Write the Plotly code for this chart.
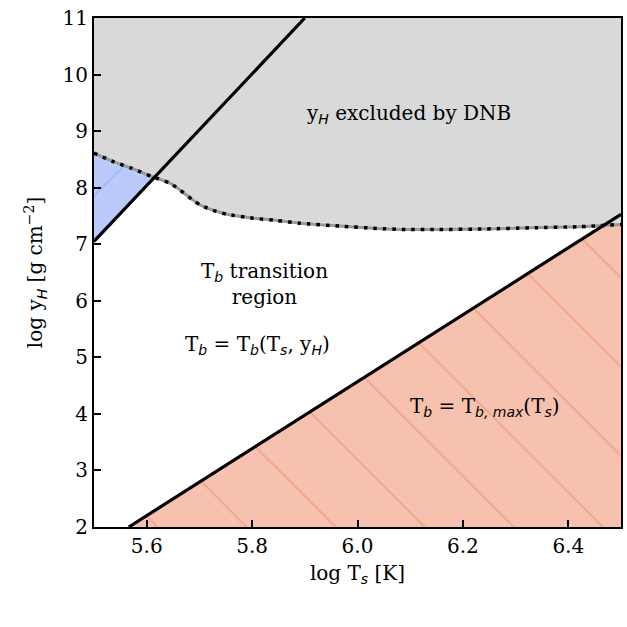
import numpy as np
import plotly.graph_objects as go

# ---- data ----
dnb_x = [5.500, 5.537, 5.572, 5.609, 5.644, 5.663, 5.688, 5.704, 5.726, 5.752,
         5.802, 5.847, 5.891, 5.967, 6.036, 6.093, 6.150, 6.245, 6.327, 6.422, 6.500]
dnb_y = [8.61, 8.46, 8.34, 8.20, 8.08, 7.96, 7.78, 7.68, 7.60, 7.53,
         7.46, 7.42, 7.37, 7.32, 7.28, 7.26, 7.26, 7.27, 7.29, 7.31, 7.35]

upper_x = [5.50, 5.90]
upper_y = [7.05, 11.0]
lower_x = [5.566, 6.50]
lower_y = [2.00, 7.53]

x_range = [5.5, 6.5]
y_range = [2, 11]
x_ticks = [5.6, 5.8, 6.0, 6.2, 6.4]
y_ticks = [2, 3, 4, 5, 6, 7, 8, 9, 10, 11]

FONT = "DejaVu Serif"
SUBF = "font-family:'DejaVu Sans';font-style:italic"


def sub(s):
    return f"<sub><span style=\"{SUBF}\">{s}</span></sub>"


def line_at(xs, lx, ly):
    return ly[0] + (ly[1] - ly[0]) / (lx[1] - lx[0]) * (np.asarray(xs) - lx[0])


grid = np.linspace(x_range[0], x_range[1], 2001)
dnb_g = np.interp(grid, dnb_x, dnb_y)

fig = go.Figure()

# gray excluded region: between dnb curve and top
fig.add_trace(go.Scatter(x=grid, y=np.full_like(grid, y_range[1]), mode="lines",
                         line=dict(width=0), hoverinfo="skip", showlegend=False))
fig.add_trace(go.Scatter(x=grid, y=dnb_g, mode="lines", fill="tonexty",
                         fillcolor="#d9d9d9", line=dict(width=0),
                         hoverinfo="skip", showlegend=False))

# blue region: between upper line and dnb curve where line lies below curve
up_g = line_at(grid, upper_x, upper_y)
mb = up_g <= dnb_g
bx = grid[mb]
fig.add_trace(go.Scatter(x=np.concatenate([bx, bx[::-1]]),
                         y=np.concatenate([dnb_g[mb], up_g[mb][::-1]]),
                         mode="lines", fill="toself", line=dict(width=0),
                         fillcolor="#b9cafb",
                         fillpattern=dict(shape="/", size=63, solidity=0.03,
                                          fgcolor="#a2b9f7", bgcolor="#b9cafb",
                                          fillmode="replace"),
                         hoverinfo="skip", showlegend=False))

# red region: below min(lower line, dnb curve)
lo_g = line_at(grid, lower_x, lower_y)
mr = grid >= lower_x[0]
rx = grid[mr]
rtop = np.minimum(lo_g[mr], dnb_g[mr])
fig.add_trace(go.Scatter(x=np.concatenate([rx, [rx[-1]]]),
                         y=np.concatenate([rtop, [y_range[0]]]),
                         mode="lines", fill="toself", line=dict(width=0),
                         fillcolor="#f7c1af",
                         fillpattern=dict(shape="\\", size=63, solidity=0.03,
                                          fgcolor="#f3a58c", bgcolor="#f7c1af",
                                          fillmode="replace"),
                         hoverinfo="skip", showlegend=False))

# dnb boundary: gray solid under black dots
fig.add_trace(go.Scatter(x=dnb_x, y=dnb_y, mode="lines",
                         line=dict(color="#9a9a9a", width=3, shape="spline", smoothing=0.6),
                         hoverinfo="skip", showlegend=False))
fig.add_trace(go.Scatter(x=dnb_x, y=dnb_y, mode="lines",
                         line=dict(color="black", width=3.5, dash="3.5px,6px",
                                   shape="spline", smoothing=0.6),
                         hoverinfo="skip", showlegend=False))

# boundary lines
fig.add_trace(go.Scatter(x=upper_x, y=upper_y, mode="lines",
                         line=dict(color="black", width=3.2),
                         hoverinfo="skip", showlegend=False))
fig.add_trace(go.Scatter(x=lower_x, y=lower_y, mode="lines",
                         line=dict(color="black", width=3.2),
                         hoverinfo="skip", showlegend=False))

tf = dict(family=FONT, size=20, color="black")
annos = [
    (6.096, 9.30, f"y{sub('H')} excluded by DNB"),
    (5.823, 6.30, f"T{sub('b')} transition<br>region"),
    (5.811, 5.22, f"T{sub('b')} = T{sub('b')}(T{sub('s')}, y{sub('H')})"),
    (6.242, 4.12, f"T{sub('b')} = T{sub('b, max')}(T{sub('s')})"),
]
for ax_, ay_, txt in annos:
    fig.add_annotation(x=ax_, y=ay_, text=txt, showarrow=False, font=tf,
                       xanchor="center", yanchor="middle", align="center")

axis_common = dict(showline=True, linecolor="black", linewidth=2.2, mirror=True,
                   ticks="inside", ticklen=7, tickwidth=1.5, tickcolor="black",
                   showgrid=False, zeroline=False, tickfont=tf, automargin=False)
fig.update_xaxes(range=x_range, tickvals=x_ticks, ticktext=[f"{v:.1f}" for v in x_ticks],
                 title=dict(text=f"log T{sub('s')} [K]", font=tf, standoff=9),
                 **axis_common)
fig.update_yaxes(range=y_range, tickvals=y_ticks, ticktext=[str(v) for v in y_ticks],
                 title=dict(text=f"log y{sub('H')} [g cm<sup>\u22122</sup>]", font=tf, standoff=14),
                 **axis_common)

fig.update_layout(width=627, height=627, margin=dict(l=94, r=6, t=18, b=100),
                  plot_bgcolor="white", paper_bgcolor="white",
                  font=dict(family=FONT, size=20, color="black"))

fig.write_html("out.html", config={"displayModeBar": False},
               post_script="document.body.style.margin='0';document.body.style.overflow='hidden';")
